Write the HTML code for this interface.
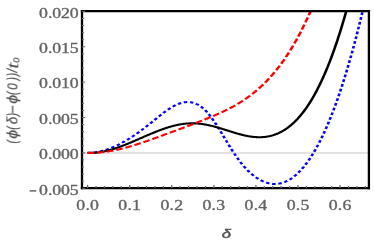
<!DOCTYPE html>
<html><head><meta charset="utf-8"><title>plot</title>
<style>
html,body{margin:0;padding:0;background:#fff;}
body{width:374px;height:245px;overflow:hidden;font-family:"Liberation Serif",serif;}
svg{display:block;}
.tk text{font-family:"Liberation Serif",serif;font-size:14px;fill:#626262;stroke:#626262;stroke-width:0.32;}
.lab{font-family:"Liberation Sans",sans-serif;font-style:italic;fill:#505050;stroke:#505050;stroke-width:0.15;}
</style></head><body>
<svg width="374" height="245" viewBox="0 0 374 245">
<rect x="0" y="0" width="374" height="245" fill="#fff"/>
<g transform="scale(1.27,1)">
<defs><clipPath id="c"><rect x="64.57" y="11.1" width="225.91" height="177.00"/></clipPath></defs>
<line x1="64.57" y1="152.9" x2="290.47" y2="152.9" stroke="#c6c6c6" stroke-width="1"/>
<g clip-path="url(#c)" fill="none" stroke-linejoin="round">
<path d="M68.98,152.97 L69.37,152.96 L69.76,152.95 L70.16,152.94 L70.55,152.92 L70.94,152.89 L71.34,152.86 L71.73,152.83 L72.13,152.79 L72.52,152.75 L72.91,152.70 L73.31,152.65 L73.70,152.59 L74.09,152.53 L74.49,152.47 L74.88,152.40 L75.28,152.32 L75.67,152.24 L76.06,152.16 L76.46,152.07 L76.85,151.98 L77.24,151.89 L77.64,151.79 L78.03,151.68 L78.43,151.57 L78.82,151.46 L79.21,151.34 L79.61,151.22 L80.00,151.10 L80.39,150.97 L80.79,150.83 L81.18,150.70 L81.57,150.56 L81.97,150.41 L82.36,150.26 L82.76,150.11 L83.15,149.95 L83.54,149.79 L83.94,149.62 L84.33,149.46 L84.72,149.28 L85.12,149.11 L85.51,148.93 L85.91,148.74 L86.30,148.56 L86.69,148.37 L87.09,148.17 L87.48,147.97 L87.87,147.77 L88.27,147.57 L88.66,147.36 L89.06,147.14 L89.45,146.93 L89.84,146.71 L90.24,146.49 L90.63,146.26 L91.02,146.03 L91.42,145.80 L91.81,145.56 L92.20,145.32 L92.60,145.08 L92.99,144.83 L93.39,144.59 L93.78,144.33 L94.17,144.08 L94.57,143.82 L94.96,143.56 L95.35,143.29 L95.75,143.03 L96.14,142.75 L96.54,142.48 L96.93,142.20 L97.32,141.92 L97.72,141.64 L98.11,141.36 L98.50,141.07 L98.90,140.78 L99.29,140.48 L99.69,140.18 L100.08,139.88 L100.47,139.58 L100.87,139.28 L101.26,138.97 L101.65,138.66 L102.05,138.35 L102.44,138.03 L102.83,137.71 L103.23,137.39 L103.62,137.07 L104.02,136.74 L104.41,136.41 L104.80,136.08 L105.20,135.75 L105.59,135.41 L105.98,135.07 L106.38,134.73 L106.77,134.39 L107.17,134.05 L107.56,133.70 L107.95,133.35 L108.35,133.00 L108.74,132.64 L109.13,132.29 L109.53,131.93 L109.92,131.57 L110.31,131.21 L110.71,130.84 L111.10,130.47 L111.50,130.11 L111.89,129.74 L112.28,129.36 L112.68,128.99 L113.07,128.61 L113.46,128.23 L113.86,127.85 L114.25,127.47 L114.65,127.09 L115.04,126.70 L115.43,126.31 L115.83,125.92 L116.22,125.53 L116.61,125.14 L117.01,124.75 L117.40,124.35 L117.80,123.95 L118.19,123.56 L118.58,123.16 L118.98,122.75 L119.37,122.35 L119.76,121.95 L120.16,121.54 L120.55,121.14 L120.94,120.73 L121.34,120.33 L121.73,119.92 L122.13,119.51 L122.52,119.11 L122.91,118.70 L123.31,118.30 L123.70,117.89 L124.09,117.49 L124.49,117.09 L124.88,116.69 L125.28,116.29 L125.67,115.90 L126.06,115.50 L126.46,115.11 L126.85,114.72 L127.24,114.33 L127.64,113.94 L128.03,113.56 L128.43,113.18 L128.82,112.81 L129.21,112.43 L129.61,112.06 L130.00,111.70 L130.39,111.34 L130.79,110.98 L131.18,110.63 L131.57,110.28 L131.97,109.93 L132.36,109.59 L132.76,109.26 L133.15,108.93 L133.54,108.61 L133.94,108.29 L134.33,107.97 L134.72,107.67 L135.12,107.37 L135.51,107.07 L135.91,106.79 L136.30,106.50 L136.69,106.23 L137.09,105.96 L137.48,105.70 L137.87,105.45 L138.27,105.20 L138.66,104.97 L139.06,104.74 L139.45,104.51 L139.84,104.30 L140.24,104.10 L140.63,103.90 L141.02,103.71 L141.42,103.53 L141.81,103.36 L142.20,103.20 L142.60,103.05 L142.99,102.91 L143.39,102.78 L143.78,102.66 L144.17,102.55 L144.57,102.45 L144.96,102.36 L145.35,102.28 L145.75,102.21 L146.14,102.15 L146.54,102.11 L146.93,102.07 L147.32,102.05 L147.72,102.04 L148.11,102.04 L148.50,102.06 L148.90,102.08 L149.29,102.12 L149.69,102.17 L150.08,102.23 L150.47,102.31 L150.87,102.40 L151.26,102.50 L151.65,102.62 L152.05,102.74 L152.44,102.88 L152.83,103.04 L153.23,103.21 L153.62,103.39 L154.02,103.59 L154.41,103.80 L154.80,104.02 L155.20,104.26 L155.59,104.51 L155.98,104.78 L156.38,105.07 L156.77,105.36 L157.17,105.68 L157.56,106.00 L157.95,106.35 L158.35,106.70 L158.74,107.08 L159.13,107.47 L159.53,107.87 L159.92,108.29 L160.31,108.73 L160.71,109.18 L161.10,109.65 L161.50,110.13 L161.89,110.64 L162.28,111.16 L162.68,111.69 L163.07,112.24 L163.46,112.81 L163.86,113.39 L164.25,113.98 L164.65,114.59 L165.04,115.21 L165.43,115.85 L165.83,116.50 L166.22,117.16 L166.61,117.83 L167.01,118.51 L167.40,119.21 L167.80,119.92 L168.19,120.63 L168.58,121.36 L168.98,122.09 L169.37,122.83 L169.76,123.59 L170.16,124.35 L170.55,125.11 L170.94,125.89 L171.34,126.67 L171.73,127.45 L172.13,128.25 L172.52,129.04 L172.91,129.85 L173.31,130.65 L173.70,131.47 L174.09,132.28 L174.49,133.10 L174.88,133.92 L175.28,134.74 L175.67,135.57 L176.06,136.39 L176.46,137.22 L176.85,138.05 L177.24,138.87 L177.64,139.70 L178.03,140.53 L178.43,141.35 L178.82,142.17 L179.21,143.00 L179.61,143.81 L180.00,144.63 L180.39,145.44 L180.79,146.25 L181.18,147.05 L181.57,147.85 L181.97,148.65 L182.36,149.44 L182.76,150.22 L183.15,150.99 L183.54,151.76 L183.94,152.53 L184.33,153.28 L184.72,154.03 L185.12,154.77 L185.51,155.51 L185.91,156.23 L186.30,156.95 L186.69,157.66 L187.09,158.36 L187.48,159.05 L187.87,159.73 L188.27,160.40 L188.66,161.07 L189.06,161.72 L189.45,162.36 L189.84,162.99 L190.24,163.61 L190.63,164.22 L191.02,164.82 L191.42,165.42 L191.81,166.00 L192.20,166.57 L192.60,167.13 L192.99,167.68 L193.39,168.22 L193.78,168.75 L194.17,169.27 L194.57,169.79 L194.96,170.29 L195.35,170.78 L195.75,171.27 L196.14,171.74 L196.54,172.20 L196.93,172.66 L197.32,173.11 L197.72,173.54 L198.11,173.97 L198.50,174.39 L198.90,174.80 L199.29,175.20 L199.69,175.59 L200.08,175.98 L200.47,176.35 L200.87,176.72 L201.26,177.08 L201.65,177.42 L202.05,177.76 L202.44,178.10 L202.83,178.42 L203.23,178.73 L203.62,179.04 L204.02,179.33 L204.41,179.62 L204.80,179.90 L205.20,180.16 L205.59,180.42 L205.98,180.68 L206.38,180.92 L206.77,181.15 L207.17,181.37 L207.56,181.59 L207.95,181.79 L208.35,181.99 L208.74,182.18 L209.13,182.36 L209.53,182.52 L209.92,182.68 L210.31,182.83 L210.71,182.97 L211.10,183.11 L211.50,183.23 L211.89,183.34 L212.28,183.45 L212.68,183.54 L213.07,183.62 L213.46,183.70 L213.86,183.76 L214.25,183.82 L214.65,183.87 L215.04,183.90 L215.43,183.93 L215.83,183.95 L216.22,183.96 L216.61,183.96 L217.01,183.94 L217.40,183.92 L217.80,183.89 L218.19,183.85 L218.58,183.80 L218.98,183.74 L219.37,183.67 L219.76,183.59 L220.16,183.50 L220.55,183.40 L220.94,183.29 L221.34,183.17 L221.73,183.04 L222.13,182.90 L222.52,182.75 L222.91,182.59 L223.31,182.42 L223.70,182.24 L224.09,182.05 L224.49,181.85 L224.88,181.64 L225.28,181.42 L225.67,181.18 L226.06,180.94 L226.46,180.69 L226.85,180.43 L227.24,180.15 L227.64,179.87 L228.03,179.58 L228.43,179.27 L228.82,178.96 L229.21,178.63 L229.61,178.30 L230.00,177.95 L230.39,177.60 L230.79,177.23 L231.18,176.85 L231.57,176.46 L231.97,176.06 L232.36,175.65 L232.76,175.23 L233.15,174.80 L233.54,174.36 L233.94,173.90 L234.33,173.44 L234.72,172.96 L235.12,172.48 L235.51,171.98 L235.91,171.47 L236.30,170.96 L236.69,170.43 L237.09,169.89 L237.48,169.33 L237.87,168.77 L238.27,168.20 L238.66,167.61 L239.06,167.02 L239.45,166.41 L239.84,165.79 L240.24,165.16 L240.63,164.52 L241.02,163.87 L241.42,163.20 L241.81,162.53 L242.20,161.84 L242.60,161.15 L242.99,160.44 L243.39,159.72 L243.78,158.98 L244.17,158.24 L244.57,157.49 L244.96,156.72 L245.35,155.94 L245.75,155.15 L246.14,154.35 L246.54,153.54 L246.93,152.72 L247.32,151.88 L247.72,151.03 L248.11,150.17 L248.50,149.30 L248.90,148.42 L249.29,147.52 L249.69,146.62 L250.08,145.70 L250.47,144.77 L250.87,143.83 L251.26,142.87 L251.65,141.90 L252.05,140.93 L252.44,139.94 L252.83,138.93 L253.23,137.92 L253.62,136.89 L254.02,135.86 L254.41,134.80 L254.80,133.74 L255.20,132.67 L255.59,131.58 L255.98,130.48 L256.38,129.37 L256.77,128.24 L257.17,127.11 L257.56,125.96 L257.95,124.80 L258.35,123.63 L258.74,122.44 L259.13,121.24 L259.53,120.03 L259.92,118.81 L260.31,117.57 L260.71,116.32 L261.10,115.06 L261.50,113.79 L261.89,112.50 L262.28,111.20 L262.68,109.89 L263.07,108.57 L263.46,107.23 L263.86,105.88 L264.25,104.52 L264.65,103.14 L265.04,101.76 L265.43,100.35 L265.83,98.94 L266.22,97.51 L266.61,96.07 L267.01,94.62 L267.40,93.16 L267.80,91.68 L268.19,90.19 L268.58,88.68 L268.98,87.16 L269.37,85.63 L269.76,84.09 L270.16,82.53 L270.55,80.96 L270.94,79.38 L271.34,77.78 L271.73,76.17 L272.13,74.55 L272.52,72.91 L272.91,71.26 L273.31,69.60 L273.70,67.92 L274.09,66.23 L274.49,64.53 L274.88,62.81 L275.28,61.08 L275.67,59.33 L276.06,57.58 L276.46,55.80 L276.85,54.02 L277.24,52.22 L277.64,50.41 L278.03,48.58 L278.43,46.74 L278.82,44.89 L279.21,43.02 L279.61,41.14 L280.00,39.25 L280.39,37.34 L280.79,35.42 L281.18,33.48 L281.57,31.53 L281.97,29.57 L282.36,27.59 L282.76,25.60 L283.15,23.59 L283.54,21.57 L283.94,19.54 L284.33,17.49 L284.72,15.43 L285.12,13.35 L286.61,5.40" stroke="#0000ff" stroke-width="2.05" stroke-dasharray="2.7 2.2"/>
<path d="M68.98,152.80 L69.37,152.82 L69.76,152.84 L70.16,152.86 L70.55,152.87 L70.94,152.87 L71.34,152.87 L71.73,152.87 L72.13,152.86 L72.52,152.85 L72.91,152.83 L73.31,152.81 L73.70,152.79 L74.09,152.76 L74.49,152.73 L74.88,152.69 L75.28,152.65 L75.67,152.60 L76.06,152.56 L76.46,152.50 L76.85,152.45 L77.24,152.39 L77.64,152.32 L78.03,152.26 L78.43,152.19 L78.82,152.11 L79.21,152.03 L79.61,151.95 L80.00,151.87 L80.39,151.78 L80.79,151.69 L81.18,151.59 L81.57,151.49 L81.97,151.39 L82.36,151.29 L82.76,151.18 L83.15,151.07 L83.54,150.95 L83.94,150.84 L84.33,150.72 L84.72,150.59 L85.12,150.47 L85.51,150.34 L85.91,150.21 L86.30,150.07 L86.69,149.94 L87.09,149.80 L87.48,149.66 L87.87,149.51 L88.27,149.36 L88.66,149.21 L89.06,149.06 L89.45,148.91 L89.84,148.75 L90.24,148.59 L90.63,148.43 L91.02,148.27 L91.42,148.10 L91.81,147.93 L92.20,147.76 L92.60,147.59 L92.99,147.42 L93.39,147.24 L93.78,147.06 L94.17,146.88 L94.57,146.70 L94.96,146.52 L95.35,146.33 L95.75,146.14 L96.14,145.96 L96.54,145.77 L96.93,145.57 L97.32,145.38 L97.72,145.19 L98.11,144.99 L98.50,144.79 L98.90,144.59 L99.29,144.39 L99.69,144.19 L100.08,143.99 L100.47,143.79 L100.87,143.58 L101.26,143.37 L101.65,143.17 L102.05,142.96 L102.44,142.75 L102.83,142.54 L103.23,142.33 L103.62,142.12 L104.02,141.91 L104.41,141.69 L104.80,141.48 L105.20,141.26 L105.59,141.05 L105.98,140.83 L106.38,140.62 L106.77,140.40 L107.17,140.18 L107.56,139.97 L107.95,139.75 L108.35,139.53 L108.74,139.31 L109.13,139.09 L109.53,138.88 L109.92,138.66 L110.31,138.44 L110.71,138.22 L111.10,138.00 L111.50,137.78 L111.89,137.56 L112.28,137.34 L112.68,137.13 L113.07,136.91 L113.46,136.69 L113.86,136.47 L114.25,136.26 L114.65,136.04 L115.04,135.82 L115.43,135.61 L115.83,135.39 L116.22,135.18 L116.61,134.96 L117.01,134.75 L117.40,134.54 L117.80,134.33 L118.19,134.11 L118.58,133.90 L118.98,133.69 L119.37,133.49 L119.76,133.28 L120.16,133.07 L120.55,132.87 L120.94,132.66 L121.34,132.46 L121.73,132.26 L122.13,132.06 L122.52,131.86 L122.91,131.66 L123.31,131.46 L123.70,131.27 L124.09,131.07 L124.49,130.88 L124.88,130.69 L125.28,130.50 L125.67,130.31 L126.06,130.12 L126.46,129.94 L126.85,129.76 L127.24,129.57 L127.64,129.39 L128.03,129.22 L128.43,129.04 L128.82,128.87 L129.21,128.69 L129.61,128.52 L130.00,128.35 L130.39,128.19 L130.79,128.02 L131.18,127.86 L131.57,127.70 L131.97,127.54 L132.36,127.39 L132.76,127.23 L133.15,127.08 L133.54,126.93 L133.94,126.79 L134.33,126.64 L134.72,126.50 L135.12,126.36 L135.51,126.23 L135.91,126.09 L136.30,125.96 L136.69,125.83 L137.09,125.71 L137.48,125.58 L137.87,125.46 L138.27,125.35 L138.66,125.23 L139.06,125.12 L139.45,125.01 L139.84,124.91 L140.24,124.80 L140.63,124.70 L141.02,124.61 L141.42,124.51 L141.81,124.42 L142.20,124.34 L142.60,124.25 L142.99,124.17 L143.39,124.10 L143.78,124.02 L144.17,123.95 L144.57,123.88 L144.96,123.82 L145.35,123.76 L145.75,123.70 L146.14,123.65 L146.54,123.60 L146.93,123.56 L147.32,123.52 L147.72,123.48 L148.11,123.44 L148.50,123.41 L148.90,123.39 L149.29,123.37 L149.69,123.35 L150.08,123.33 L150.47,123.32 L150.87,123.32 L151.26,123.31 L151.65,123.32 L152.05,123.32 L152.44,123.33 L152.83,123.34 L153.23,123.36 L153.62,123.38 L154.02,123.41 L154.41,123.43 L154.80,123.47 L155.20,123.50 L155.59,123.54 L155.98,123.58 L156.38,123.63 L156.77,123.68 L157.17,123.73 L157.56,123.79 L157.95,123.84 L158.35,123.91 L158.74,123.97 L159.13,124.04 L159.53,124.11 L159.92,124.19 L160.31,124.26 L160.71,124.35 L161.10,124.43 L161.50,124.52 L161.89,124.60 L162.28,124.70 L162.68,124.79 L163.07,124.89 L163.46,124.99 L163.86,125.09 L164.25,125.20 L164.65,125.30 L165.04,125.41 L165.43,125.53 L165.83,125.64 L166.22,125.76 L166.61,125.88 L167.01,126.00 L167.40,126.12 L167.80,126.25 L168.19,126.38 L168.58,126.51 L168.98,126.64 L169.37,126.78 L169.76,126.91 L170.16,127.05 L170.55,127.19 L170.94,127.33 L171.34,127.48 L171.73,127.62 L172.13,127.77 L172.52,127.92 L172.91,128.06 L173.31,128.21 L173.70,128.37 L174.09,128.52 L174.49,128.67 L174.88,128.83 L175.28,128.98 L175.67,129.14 L176.06,129.29 L176.46,129.45 L176.85,129.61 L177.24,129.77 L177.64,129.93 L178.03,130.08 L178.43,130.24 L178.82,130.40 L179.21,130.56 L179.61,130.72 L180.00,130.88 L180.39,131.04 L180.79,131.20 L181.18,131.35 L181.57,131.51 L181.97,131.67 L182.36,131.83 L182.76,131.98 L183.15,132.14 L183.54,132.29 L183.94,132.44 L184.33,132.60 L184.72,132.75 L185.12,132.90 L185.51,133.05 L185.91,133.20 L186.30,133.34 L186.69,133.49 L187.09,133.63 L187.48,133.77 L187.87,133.91 L188.27,134.05 L188.66,134.18 L189.06,134.32 L189.45,134.45 L189.84,134.58 L190.24,134.71 L190.63,134.83 L191.02,134.96 L191.42,135.08 L191.81,135.20 L192.20,135.31 L192.60,135.43 L192.99,135.54 L193.39,135.64 L193.78,135.75 L194.17,135.85 L194.57,135.95 L194.96,136.04 L195.35,136.14 L195.75,136.23 L196.14,136.31 L196.54,136.39 L196.93,136.47 L197.32,136.55 L197.72,136.62 L198.11,136.69 L198.50,136.75 L198.90,136.81 L199.29,136.86 L199.69,136.92 L200.08,136.96 L200.47,137.01 L200.87,137.05 L201.26,137.08 L201.65,137.12 L202.05,137.14 L202.44,137.16 L202.83,137.18 L203.23,137.20 L203.62,137.20 L204.02,137.21 L204.41,137.21 L204.80,137.20 L205.20,137.19 L205.59,137.18 L205.98,137.16 L206.38,137.13 L206.77,137.10 L207.17,137.07 L207.56,137.03 L207.95,136.98 L208.35,136.93 L208.74,136.88 L209.13,136.81 L209.53,136.75 L209.92,136.67 L210.31,136.60 L210.71,136.51 L211.10,136.42 L211.50,136.33 L211.89,136.23 L212.28,136.12 L212.68,136.00 L213.07,135.89 L213.46,135.76 L213.86,135.63 L214.25,135.49 L214.65,135.35 L215.04,135.20 L215.43,135.04 L215.83,134.88 L216.22,134.71 L216.61,134.53 L217.01,134.35 L217.40,134.16 L217.80,133.96 L218.19,133.76 L218.58,133.55 L218.98,133.33 L219.37,133.11 L219.76,132.87 L220.16,132.64 L220.55,132.39 L220.94,132.14 L221.34,131.88 L221.73,131.61 L222.13,131.33 L222.52,131.05 L222.91,130.76 L223.31,130.46 L223.70,130.16 L224.09,129.85 L224.49,129.52 L224.88,129.20 L225.28,128.86 L225.67,128.51 L226.06,128.16 L226.46,127.80 L226.85,127.43 L227.24,127.06 L227.64,126.67 L228.03,126.28 L228.43,125.87 L228.82,125.46 L229.21,125.04 L229.61,124.62 L230.00,124.18 L230.39,123.73 L230.79,123.28 L231.18,122.82 L231.57,122.35 L231.97,121.87 L232.36,121.38 L232.76,120.88 L233.15,120.37 L233.54,119.85 L233.94,119.33 L234.33,118.79 L234.72,118.25 L235.12,117.69 L235.51,117.13 L235.91,116.55 L236.30,115.97 L236.69,115.38 L237.09,114.78 L237.48,114.16 L237.87,113.54 L238.27,112.91 L238.66,112.27 L239.06,111.61 L239.45,110.95 L239.84,110.28 L240.24,109.59 L240.63,108.90 L241.02,108.20 L241.42,107.48 L241.81,106.76 L242.20,106.02 L242.60,105.27 L242.99,104.52 L243.39,103.75 L243.78,102.97 L244.17,102.18 L244.57,101.38 L244.96,100.56 L245.35,99.74 L245.75,98.90 L246.14,98.06 L246.54,97.20 L246.93,96.33 L247.32,95.45 L247.72,94.55 L248.11,93.65 L248.50,92.73 L248.90,91.80 L249.29,90.86 L249.69,89.91 L250.08,88.95 L250.47,87.97 L250.87,86.98 L251.26,85.98 L251.65,84.97 L252.05,83.94 L252.44,82.90 L252.83,81.85 L253.23,80.79 L253.62,79.71 L254.02,78.62 L254.41,77.52 L254.80,76.40 L255.20,75.28 L255.59,74.13 L255.98,72.98 L256.38,71.81 L256.77,70.63 L257.17,69.44 L257.56,68.23 L257.95,67.01 L258.35,65.77 L258.74,64.53 L259.13,63.26 L259.53,61.99 L259.92,60.70 L260.31,59.39 L260.71,58.08 L261.10,56.74 L261.50,55.40 L261.89,54.04 L262.28,52.66 L262.68,51.28 L263.07,49.87 L263.46,48.46 L263.86,47.02 L264.25,45.58 L264.65,44.11 L265.04,42.64 L265.43,41.15 L265.83,39.64 L266.22,38.12 L266.61,36.58 L267.01,35.03 L267.40,33.47 L267.80,31.89 L268.19,30.29 L268.58,28.68 L268.98,27.05 L269.37,25.41 L269.76,23.75 L270.16,22.07 L270.55,20.38 L270.94,18.68 L271.34,16.95 L271.73,15.22 L272.13,13.46 L272.52,11.69 L273.78,5.99" stroke="#000" stroke-width="2.05"/>
<path d="M68.98,152.87 L69.37,152.88 L69.76,152.89 L70.16,152.89 L70.55,152.90 L70.94,152.90 L71.34,152.90 L71.73,152.90 L72.13,152.89 L72.52,152.88 L72.91,152.87 L73.31,152.86 L73.70,152.84 L74.09,152.83 L74.49,152.81 L74.88,152.78 L75.28,152.76 L75.67,152.73 L76.06,152.70 L76.46,152.67 L76.85,152.64 L77.24,152.60 L77.64,152.57 L78.03,152.52 L78.43,152.48 L78.82,152.44 L79.21,152.39 L79.61,152.34 L80.00,152.29 L80.39,152.24 L80.79,152.18 L81.18,152.12 L81.57,152.07 L81.97,152.00 L82.36,151.94 L82.76,151.87 L83.15,151.81 L83.54,151.74 L83.94,151.67 L84.33,151.59 L84.72,151.52 L85.12,151.44 L85.51,151.36 L85.91,151.28 L86.30,151.20 L86.69,151.11 L87.09,151.03 L87.48,150.94 L87.87,150.85 L88.27,150.76 L88.66,150.66 L89.06,150.57 L89.45,150.47 L89.84,150.37 L90.24,150.27 L90.63,150.17 L91.02,150.07 L91.42,149.96 L91.81,149.86 L92.20,149.75 L92.60,149.64 L92.99,149.53 L93.39,149.41 L93.78,149.30 L94.17,149.18 L94.57,149.06 L94.96,148.95 L95.35,148.82 L95.75,148.70 L96.14,148.58 L96.54,148.45 L96.93,148.33 L97.32,148.20 L97.72,148.07 L98.11,147.94 L98.50,147.81 L98.90,147.68 L99.29,147.54 L99.69,147.41 L100.08,147.27 L100.47,147.13 L100.87,146.99 L101.26,146.85 L101.65,146.71 L102.05,146.57 L102.44,146.42 L102.83,146.28 L103.23,146.13 L103.62,145.98 L104.02,145.84 L104.41,145.69 L104.80,145.54 L105.20,145.38 L105.59,145.23 L105.98,145.08 L106.38,144.92 L106.77,144.77 L107.17,144.61 L107.56,144.45 L107.95,144.29 L108.35,144.14 L108.74,143.97 L109.13,143.81 L109.53,143.65 L109.92,143.49 L110.31,143.33 L110.71,143.16 L111.10,143.00 L111.50,142.83 L111.89,142.66 L112.28,142.50 L112.68,142.33 L113.07,142.16 L113.46,141.99 L113.86,141.82 L114.25,141.65 L114.65,141.48 L115.04,141.30 L115.43,141.13 L115.83,140.96 L116.22,140.78 L116.61,140.61 L117.01,140.43 L117.40,140.26 L117.80,140.08 L118.19,139.91 L118.58,139.73 L118.98,139.55 L119.37,139.37 L119.76,139.20 L120.16,139.02 L120.55,138.84 L120.94,138.66 L121.34,138.48 L121.73,138.30 L122.13,138.12 L122.52,137.94 L122.91,137.76 L123.31,137.57 L123.70,137.39 L124.09,137.21 L124.49,137.03 L124.88,136.85 L125.28,136.66 L125.67,136.48 L126.06,136.30 L126.46,136.12 L126.85,135.93 L127.24,135.75 L127.64,135.57 L128.03,135.38 L128.43,135.20 L128.82,135.02 L129.21,134.83 L129.61,134.65 L130.00,134.47 L130.39,134.28 L130.79,134.10 L131.18,133.92 L131.57,133.74 L131.97,133.55 L132.36,133.37 L132.76,133.19 L133.15,133.00 L133.54,132.82 L133.94,132.64 L134.33,132.45 L134.72,132.27 L135.12,132.09 L135.51,131.90 L135.91,131.72 L136.30,131.54 L136.69,131.35 L137.09,131.17 L137.48,130.99 L137.87,130.80 L138.27,130.62 L138.66,130.43 L139.06,130.25 L139.45,130.06 L139.84,129.88 L140.24,129.70 L140.63,129.51 L141.02,129.33 L141.42,129.14 L141.81,128.96 L142.20,128.77 L142.60,128.59 L142.99,128.40 L143.39,128.21 L143.78,128.03 L144.17,127.84 L144.57,127.65 L144.96,127.47 L145.35,127.28 L145.75,127.09 L146.14,126.91 L146.54,126.72 L146.93,126.53 L147.32,126.34 L147.72,126.15 L148.11,125.97 L148.50,125.78 L148.90,125.59 L149.29,125.40 L149.69,125.21 L150.08,125.02 L150.47,124.83 L150.87,124.64 L151.26,124.45 L151.65,124.25 L152.05,124.06 L152.44,123.87 L152.83,123.68 L153.23,123.49 L153.62,123.29 L154.02,123.10 L154.41,122.91 L154.80,122.71 L155.20,122.52 L155.59,122.32 L155.98,122.13 L156.38,121.93 L156.77,121.73 L157.17,121.54 L157.56,121.34 L157.95,121.14 L158.35,120.94 L158.74,120.75 L159.13,120.55 L159.53,120.35 L159.92,120.15 L160.31,119.95 L160.71,119.75 L161.10,119.54 L161.50,119.34 L161.89,119.14 L162.28,118.94 L162.68,118.73 L163.07,118.53 L163.46,118.33 L163.86,118.12 L164.25,117.92 L164.65,117.71 L165.04,117.50 L165.43,117.30 L165.83,117.09 L166.22,116.88 L166.61,116.67 L167.01,116.46 L167.40,116.25 L167.80,116.04 L168.19,115.83 L168.58,115.61 L168.98,115.40 L169.37,115.18 L169.76,114.97 L170.16,114.75 L170.55,114.53 L170.94,114.32 L171.34,114.10 L171.73,113.88 L172.13,113.65 L172.52,113.43 L172.91,113.20 L173.31,112.98 L173.70,112.75 L174.09,112.52 L174.49,112.29 L174.88,112.06 L175.28,111.83 L175.67,111.59 L176.06,111.36 L176.46,111.12 L176.85,110.88 L177.24,110.64 L177.64,110.40 L178.03,110.15 L178.43,109.91 L178.82,109.66 L179.21,109.41 L179.61,109.16 L180.00,108.90 L180.39,108.65 L180.79,108.39 L181.18,108.13 L181.57,107.87 L181.97,107.60 L182.36,107.34 L182.76,107.07 L183.15,106.80 L183.54,106.52 L183.94,106.25 L184.33,105.97 L184.72,105.69 L185.12,105.41 L185.51,105.12 L185.91,104.84 L186.30,104.55 L186.69,104.25 L187.09,103.96 L187.48,103.66 L187.87,103.36 L188.27,103.06 L188.66,102.75 L189.06,102.44 L189.45,102.13 L189.84,101.81 L190.24,101.50 L190.63,101.18 L191.02,100.85 L191.42,100.53 L191.81,100.20 L192.20,99.86 L192.60,99.53 L192.99,99.19 L193.39,98.85 L193.78,98.50 L194.17,98.15 L194.57,97.80 L194.96,97.44 L195.35,97.08 L195.75,96.72 L196.14,96.36 L196.54,95.99 L196.93,95.61 L197.32,95.24 L197.72,94.86 L198.11,94.47 L198.50,94.08 L198.90,93.69 L199.29,93.30 L199.69,92.90 L200.08,92.49 L200.47,92.09 L200.87,91.68 L201.26,91.26 L201.65,90.84 L202.05,90.42 L202.44,89.99 L202.83,89.56 L203.23,89.13 L203.62,88.69 L204.02,88.24 L204.41,87.79 L204.80,87.34 L205.20,86.89 L205.59,86.42 L205.98,85.96 L206.38,85.49 L206.77,85.01 L207.17,84.53 L207.56,84.05 L207.95,83.56 L208.35,83.07 L208.74,82.57 L209.13,82.07 L209.53,81.56 L209.92,81.05 L210.31,80.53 L210.71,80.01 L211.10,79.48 L211.50,78.95 L211.89,78.42 L212.28,77.87 L212.68,77.33 L213.07,76.77 L213.46,76.22 L213.86,75.65 L214.25,75.09 L214.65,74.51 L215.04,73.93 L215.43,73.35 L215.83,72.76 L216.22,72.16 L216.61,71.56 L217.01,70.96 L217.40,70.34 L217.80,69.72 L218.19,69.10 L218.58,68.47 L218.98,67.83 L219.37,67.19 L219.76,66.54 L220.16,65.89 L220.55,65.23 L220.94,64.56 L221.34,63.89 L221.73,63.21 L222.13,62.52 L222.52,61.83 L222.91,61.13 L223.31,60.42 L223.70,59.71 L224.09,58.99 L224.49,58.27 L224.88,57.54 L225.28,56.80 L225.67,56.05 L226.06,55.30 L226.46,54.54 L226.85,53.77 L227.24,52.99 L227.64,52.21 L228.03,51.42 L228.43,50.63 L228.82,49.82 L229.21,49.01 L229.61,48.20 L230.00,47.37 L230.39,46.54 L230.79,45.70 L231.18,44.85 L231.57,43.99 L231.97,43.13 L232.36,42.26 L232.76,41.38 L233.15,40.49 L233.54,39.59 L233.94,38.69 L234.33,37.78 L234.72,36.86 L235.12,35.93 L235.51,34.99 L235.91,34.05 L236.30,33.10 L236.69,32.13 L237.09,31.16 L237.48,30.19 L237.87,29.20 L238.27,28.20 L238.66,27.20 L239.06,26.19 L239.45,25.16 L239.84,24.13 L240.24,23.09 L240.63,22.05 L241.02,20.99 L241.42,19.92 L241.81,18.85 L242.20,17.76 L242.60,16.67 L242.99,15.56 L243.39,14.45 L243.78,13.33 L245.28,9.02" stroke="#ff0000" stroke-width="2.05" stroke-dasharray="5.3 2.3"/>
</g>
<g stroke="#000"><line x1="63.66" y1="11.1" x2="291.38" y2="11.1" stroke-width="2.05"/><line x1="63.66" y1="188.1" x2="291.38" y2="188.1" stroke-width="2.4"/><line x1="64.57" y1="10.1" x2="64.57" y2="189.29999999999998" stroke-width="1.81"/><line x1="290.47" y1="10.1" x2="290.47" y2="189.29999999999998" stroke-width="1.81"/></g>
<g stroke="#6a6a6a" stroke-width="1.05"><line x1="68.98" y1="188.1" x2="68.98" y2="184.90"/><line x1="75.60" y1="188.1" x2="75.60" y2="186.00"/><line x1="82.23" y1="188.1" x2="82.23" y2="186.00"/><line x1="88.86" y1="188.1" x2="88.86" y2="186.00"/><line x1="95.48" y1="188.1" x2="95.48" y2="186.00"/><line x1="102.11" y1="188.1" x2="102.11" y2="184.90"/><line x1="108.74" y1="188.1" x2="108.74" y2="186.00"/><line x1="115.36" y1="188.1" x2="115.36" y2="186.00"/><line x1="121.99" y1="188.1" x2="121.99" y2="186.00"/><line x1="128.62" y1="188.1" x2="128.62" y2="186.00"/><line x1="135.24" y1="188.1" x2="135.24" y2="184.90"/><line x1="141.87" y1="188.1" x2="141.87" y2="186.00"/><line x1="148.50" y1="188.1" x2="148.50" y2="186.00"/><line x1="155.12" y1="188.1" x2="155.12" y2="186.00"/><line x1="161.75" y1="188.1" x2="161.75" y2="186.00"/><line x1="168.38" y1="188.1" x2="168.38" y2="184.90"/><line x1="175.00" y1="188.1" x2="175.00" y2="186.00"/><line x1="181.63" y1="188.1" x2="181.63" y2="186.00"/><line x1="188.26" y1="188.1" x2="188.26" y2="186.00"/><line x1="194.89" y1="188.1" x2="194.89" y2="186.00"/><line x1="201.51" y1="188.1" x2="201.51" y2="184.90"/><line x1="208.14" y1="188.1" x2="208.14" y2="186.00"/><line x1="214.77" y1="188.1" x2="214.77" y2="186.00"/><line x1="221.39" y1="188.1" x2="221.39" y2="186.00"/><line x1="228.02" y1="188.1" x2="228.02" y2="186.00"/><line x1="234.65" y1="188.1" x2="234.65" y2="184.90"/><line x1="241.27" y1="188.1" x2="241.27" y2="186.00"/><line x1="247.90" y1="188.1" x2="247.90" y2="186.00"/><line x1="254.53" y1="188.1" x2="254.53" y2="186.00"/><line x1="261.15" y1="188.1" x2="261.15" y2="186.00"/><line x1="267.78" y1="188.1" x2="267.78" y2="184.90"/><line x1="274.41" y1="188.1" x2="274.41" y2="186.00"/><line x1="281.03" y1="188.1" x2="281.03" y2="186.00"/><line x1="287.66" y1="188.1" x2="287.66" y2="186.00"/><line x1="64.57" y1="188.28" x2="67.09" y2="188.28"/><line x1="64.57" y1="181.20" x2="66.22" y2="181.20"/><line x1="64.57" y1="174.12" x2="66.22" y2="174.12"/><line x1="64.57" y1="167.05" x2="66.22" y2="167.05"/><line x1="64.57" y1="159.97" x2="66.22" y2="159.97"/><line x1="64.57" y1="152.90" x2="67.09" y2="152.90"/><line x1="64.57" y1="145.83" x2="66.22" y2="145.83"/><line x1="64.57" y1="138.75" x2="66.22" y2="138.75"/><line x1="64.57" y1="131.68" x2="66.22" y2="131.68"/><line x1="64.57" y1="124.60" x2="66.22" y2="124.60"/><line x1="64.57" y1="117.53" x2="67.09" y2="117.53"/><line x1="64.57" y1="110.45" x2="66.22" y2="110.45"/><line x1="64.57" y1="103.38" x2="66.22" y2="103.38"/><line x1="64.57" y1="96.30" x2="66.22" y2="96.30"/><line x1="64.57" y1="89.22" x2="66.22" y2="89.22"/><line x1="64.57" y1="82.15" x2="67.09" y2="82.15"/><line x1="64.57" y1="75.08" x2="66.22" y2="75.08"/><line x1="64.57" y1="68.00" x2="66.22" y2="68.00"/><line x1="64.57" y1="60.92" x2="66.22" y2="60.92"/><line x1="64.57" y1="53.85" x2="66.22" y2="53.85"/><line x1="64.57" y1="46.78" x2="67.09" y2="46.78"/><line x1="64.57" y1="39.70" x2="66.22" y2="39.70"/><line x1="64.57" y1="32.62" x2="66.22" y2="32.62"/><line x1="64.57" y1="25.55" x2="66.22" y2="25.55"/><line x1="64.57" y1="18.48" x2="66.22" y2="18.48"/><line x1="64.57" y1="11.40" x2="67.09" y2="11.40"/></g>
<g class="tk" style="filter:grayscale(1)"><text x="68.98" y="209.9" text-anchor="middle" textLength="17.80" lengthAdjust="spacing">0.0</text><text x="102.11" y="209.9" text-anchor="middle" textLength="17.80" lengthAdjust="spacing">0.1</text><text x="135.24" y="209.9" text-anchor="middle" textLength="17.80" lengthAdjust="spacing">0.2</text><text x="168.38" y="209.9" text-anchor="middle" textLength="17.80" lengthAdjust="spacing">0.3</text><text x="201.51" y="209.9" text-anchor="middle" textLength="17.80" lengthAdjust="spacing">0.4</text><text x="234.65" y="209.9" text-anchor="middle" textLength="17.80" lengthAdjust="spacing">0.5</text><text x="267.78" y="209.9" text-anchor="middle" textLength="17.80" lengthAdjust="spacing">0.6</text><text x="61.97" y="17.70" text-anchor="end" textLength="31.18" lengthAdjust="spacing">0.020</text><text x="61.97" y="53.08" text-anchor="end" textLength="31.18" lengthAdjust="spacing">0.015</text><text x="61.97" y="88.45" text-anchor="end" textLength="31.18" lengthAdjust="spacing">0.010</text><text x="61.97" y="123.83" text-anchor="end" textLength="31.18" lengthAdjust="spacing">0.005</text><text x="61.97" y="159.20" text-anchor="end" textLength="31.18" lengthAdjust="spacing">0.000</text><text x="61.97" y="194.58" text-anchor="end" textLength="31.18" lengthAdjust="spacing">0.005</text><line x1="23.31" y1="190.88" x2="28.58" y2="190.88" stroke="#666" stroke-width="1.5"/></g>
<g style="filter:grayscale(1)"><text class="lab" x="178.27" y="238.4" text-anchor="middle" font-size="13.2" style="stroke-width:0.45">δ</text>
<g transform="translate(13.94,143) rotate(-90)"><text class="lab" font-family="Liberation Sans" style="font-family:'Liberation Sans'" font-size="11.3" transform="translate(-0.51,0) scale(0.900,1)">(</text><text class="lab" font-family="Liberation Sans" style="font-family:'Liberation Sans'" font-size="11.3" transform="translate(4.18,0) scale(1.422,1)">ϕ</text><text class="lab" font-family="Liberation Sans" style="font-family:'Liberation Sans'" font-size="11.3" transform="translate(13.29,0) scale(0.900,1)">(</text><text class="lab" font-family="Liberation Sans" style="font-family:'Liberation Sans'" font-size="11.3" transform="translate(18.86,0) scale(1.198,1)">δ</text><text class="lab" font-family="Liberation Sans" style="font-family:'Liberation Sans'" font-size="11.3" transform="translate(26.70,0) scale(0.900,1)">)</text><text class="lab" font-family="Liberation Sans" style="font-family:'Liberation Sans'" font-size="11.3" transform="translate(29.29,0) scale(1.257,1)">−</text><text class="lab" font-family="Liberation Sans" style="font-family:'Liberation Sans'" font-size="11.3" transform="translate(39.28,0) scale(1.422,1)">ϕ</text><text class="lab" font-family="Liberation Sans" style="font-family:'Liberation Sans'" font-size="11.3" transform="translate(48.04,0) scale(0.900,1)">(</text><text class="lab" font-family="Liberation Sans" style="font-family:'Liberation Sans'" font-size="11.3" transform="translate(53.30,0) scale(1.018,1)">0</text><text class="lab" font-family="Liberation Sans" style="font-family:'Liberation Sans'" font-size="11.3" transform="translate(62.45,0) scale(0.900,1)">)</text><text class="lab" font-family="Liberation Sans" style="font-family:'Liberation Sans'" font-size="11.3" transform="translate(66.75,0) scale(0.900,1)">)</text><text class="lab" font-family="Liberation Sans" style="font-family:'Liberation Sans'" font-size="11.3" transform="translate(70.44,0) scale(1.158,1)">/</text><text class="lab" font-family="Liberation Serif" style="font-family:'Liberation Serif'" font-size="12.5" transform="translate(74.38,0.2) scale(1.600,1)">t</text><text class="lab" font-family="Liberation Sans" style="font-family:'Liberation Sans'" font-size="6.8" transform="translate(80.30,1.5) scale(1.341,1)">0</text></g></g>
</g>
</svg>
</body></html>
